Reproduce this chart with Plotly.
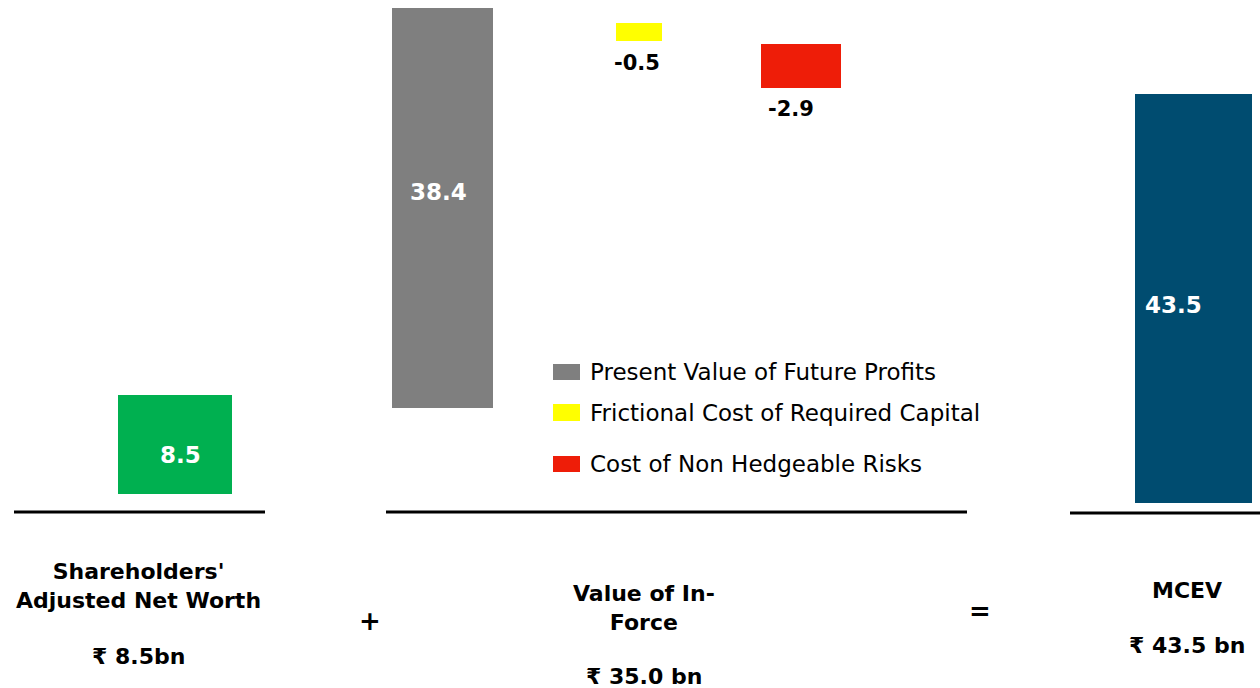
import plotly.graph_objects as go

# bar values (Rs bn)
bar_names = ["Shareholders' Adjusted Net Worth", "Present Value of Future Profits",
             "Frictional Cost of Required Capital", "Cost of Non Hedgeable Risks", "MCEV"]
bar_values = [8.5, 38.4, -0.5, -2.9, 43.5]
bar_colors = ["#00B050", "#7F7F7F", "#FFFF00", "#EE1D08", "#004C70"]

legend_names = ["Present Value of Future Profits", "Frictional Cost of Required Capital",
                "Cost of Non Hedgeable Risks"]
legend_colors = ["#7F7F7F", "#FFFF00", "#EE1D08"]

group_titles = ["Shareholders'<br>Adjusted Net Worth", "Value of In-<br>Force", "MCEV"]
group_totals = ["₹ 8.5bn", "₹ 35.0 bn", "₹ 43.5 bn"]

W, H = 1260, 688
FONT = "DejaVu Sans, Verdana, sans-serif"

# each bar sits on its own little axis (the slide draws every piece at its own scale)
# centre px, width px, baseline px, px per unit, label shift (x, y)
placement = [
    (175, 114, 494, 99 / 8.5, (5, -10)),
    (442.5, 101, 408, 400 / 38.4, (-4, 16)),
    (639, 46, 23, 18 / 0.5, (-2, -8)),
    (801, 80, 44, 44 / 2.9, (-10, -7)),
    (1193.5, 117, 503, 409 / 43.5, (-20, -6)),
]

fig = go.Figure()
layout_axes = {}
annotations = []
for i, (name, val, col) in enumerate(zip(bar_names, bar_values, bar_colors)):
    cx, bw, base, ppu, (dx, dy) = placement[i]
    n = "" if i == 0 else str(i + 1)
    fig.add_trace(go.Bar(
        x=[0], y=[val], width=[1], name=name,
        marker=dict(color=col, line=dict(width=0)),
        showlegend=False, hoverinfo="name+y",
        xaxis="x" + n, yaxis="y" + n,
    ))
    layout_axes["xaxis" + n] = dict(domain=[0, 1], range=[-cx / bw, (W - cx) / bw],
                                   visible=False, fixedrange=True,
                                   anchor="y" + n, **({} if i == 0 else {"overlaying": "x"}))
    layout_axes["yaxis" + n] = dict(domain=[0, 1], range=[(base - H) / ppu, base / ppu],
                                   visible=False, fixedrange=True,
                                   anchor="x" + n, **({} if i == 0 else {"overlaying": "y"}))
    # value label: white in the middle of positive bars, black under negative ones
    if val > 0:
        annotations.append(dict(text=f"{val:.1f}", x=0, y=val / 2, xref="x" + n, yref="y" + n,
                                xshift=dx, yshift=dy, showarrow=False,
                                font=dict(family=FONT, size=23, color="white", weight="bold")))
    else:
        annotations.append(dict(text=f"{val:.1f}", x=0, y=val, xref="x" + n, yref="y" + n,
                                yanchor="top", xshift=dx, yshift=dy, showarrow=False,
                                font=dict(family=FONT, size=21, color="black", weight="bold")))

fig.update_layout(**layout_axes)

shapes = []
# base lines under each group
for x0, x1, y in [(14, 265, 512), (386, 967, 512), (1070, 1260, 513)]:
    shapes.append(dict(type="line", xref="paper", yref="paper",
                       x0=x0 / W, x1=x1 / W, y0=1 - y / H, y1=1 - y / H,
                       line=dict(color="black", width=3)))

# manual legend
for name, col, y0, y1 in zip(legend_names, legend_colors, [364, 404, 456], [380, 421, 472]):
    shapes.append(dict(type="rect", xref="paper", yref="paper",
                       x0=553 / W, x1=580 / W, y0=1 - y1 / H, y1=1 - y0 / H,
                       fillcolor=col, line=dict(width=0)))
    annotations.append(dict(text=name, xref="paper", yref="paper",
                            x=588 / W, y=1 - (y0 + y1) / 2 / H, xanchor="left", yanchor="middle",
                            showarrow=False, font=dict(family=FONT, size=23, color="black")))

# group captions
for title, total, cx, ty, vy in zip(group_titles, group_totals,
                                    [138, 644, 1187], [586, 608, 590], [656, 676, 645]):
    annotations.append(dict(text=title, xref="paper", yref="paper", x=cx / W, y=1 - ty / H,
                            xanchor="center", yanchor="middle", showarrow=False, align="center",
                            font=dict(family=FONT, size=22, color="black", weight="bold")))
    annotations.append(dict(text=total, xref="paper", yref="paper", x=cx / W, y=1 - vy / H,
                            xanchor="center", yanchor="middle", showarrow=False,
                            font=dict(family=FONT, size=22, color="black", weight="bold")))

for sym, cx, cy in [("+", 370, 621), ("=", 980, 611)]:
    annotations.append(dict(text=sym, xref="paper", yref="paper", x=cx / W, y=1 - cy / H,
                            xanchor="center", yanchor="middle", showarrow=False,
                            font=dict(family=FONT, size=26, color="black", weight="bold")))

fig.update_layout(
    width=W, height=H,
    margin=dict(l=0, r=0, t=0, b=0),
    paper_bgcolor="white", plot_bgcolor="white",
    shapes=shapes, annotations=annotations,
    barmode="overlay",
)

fig.write_html("out.html", config={"displayModeBar": False},
               post_script="document.body.style.margin='0';document.body.style.overflow='hidden';")
